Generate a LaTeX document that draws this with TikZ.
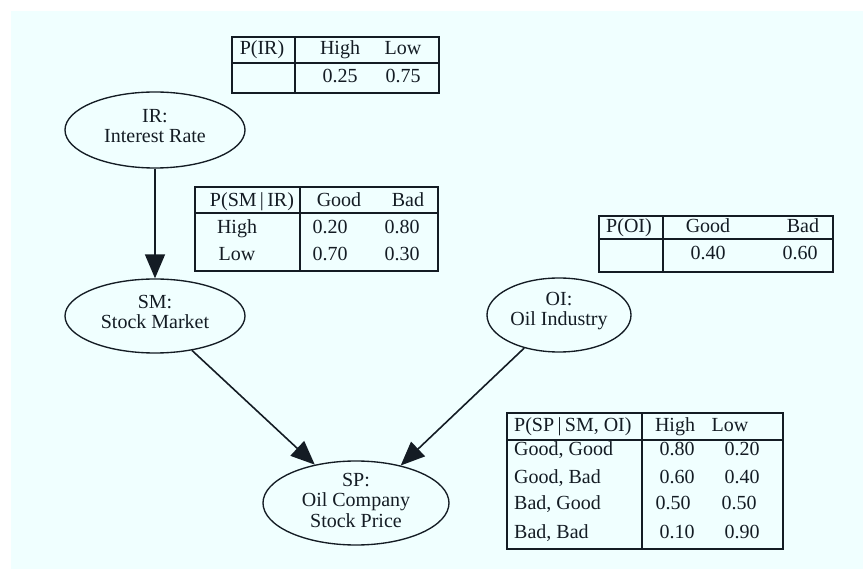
\documentclass[tikz,border=0pt]{standalone}
\usepackage{fontspec}
\setmainfont{Liberation Serif}
\usetikzlibrary{shapes.geometric,arrows.meta}
\definecolor{bgcyan}{HTML}{F0FFFF}
\definecolor{ink}{HTML}{141C24}
\begin{document}
\begin{tikzpicture}[x=1pt,y=-1pt,
  font=\fontsize{20}{20.5}\selectfont,
  var/.style={draw=ink, line width=1.35pt, ellipse, inner sep=0pt},
  vlabel/.style={inner sep=0pt, align=center, text=ink},
  cell/.style={inner sep=0pt, text=ink, anchor=base},
  lcell/.style={inner sep=0pt, text=ink, anchor=base west},
  grid/.style={draw=ink, line width=1.35pt},
  link/.style={draw=ink, line width=1.6pt, -{Triangle[length=24pt,width=20pt]}}
]
\useasboundingbox (0,0) rectangle (863,569);
\fill[bgcyan] (11,11) rectangle (863,569);

% network variables
\node[var, minimum width=180pt, minimum height=76pt] (ir) at (155,130) {};
\node[var, minimum width=180pt, minimum height=74pt] (sm) at (155,316) {};
\node[var, minimum width=144pt, minimum height=74pt] (oi) at (559,315) {};
\node[var, minimum width=186pt, minimum height=84pt] (sp) at (356,503) {};
\node[vlabel] (irl) at (155,126) {IR:\\Interest Rate};
\node[vlabel] (sml) at (155,312) {SM:\\Stock Market};
\node[vlabel] (oil) at (559,311) {OI:\\Oil Industry};
\node[vlabel] (spl) at (356,500) {SP:\\Oil Company\\Stock Price};

% dependencies
\draw[link] (ir) -- (sm);
\draw[link] (sm) -- (sp);
\draw[link] (oi) -- (sp.40);

% P(IR)
\draw[grid] (232,37) rectangle (439,93);
\draw[grid] (295,37) -- (295,93);
\draw[grid] (232,63) -- (439,63);
\node[cell] (irh0) at (262,55) {P(IR)};
\node[cell] (irh1) at (340,55) {High};
\node[cell] (irh2) at (403,55) {Low};
\node[cell] (irv1) at (340,83) {0.25};
\node[cell] (irv2) at (403,83) {0.75};

% P(SM | IR)
\draw[grid] (195,187) rectangle (438,271);
\draw[grid] (300,187) -- (300,271);
\draw[grid] (195,213) -- (438,213);
\node[cell] (smh0) at (252,207) {P(SM\,|\,IR)};
\node[cell] (smh1) at (339,207) {Good};
\node[cell] (smh2) at (408,207) {Bad};
\node[cell] (smr1) at (237,234) {High};
\node[cell] (smr2) at (237,261) {Low};
\node[cell] (sm11) at (330,234) {0.20};
\node[cell] (sm12) at (402,234) {0.80};
\node[cell] (sm21) at (330,261) {0.70};
\node[cell] (sm22) at (402,261) {0.30};

% P(OI)
\draw[grid] (599,216) rectangle (833,272);
\draw[grid] (663,216) -- (663,272);
\draw[grid] (599,239) -- (833,239);
\node[cell] (oih0) at (629,233) {P(OI)};
\node[cell] (oih1) at (708,233) {Good};
\node[cell] (oih2) at (803,233) {Bad};
\node[cell] (oiv1) at (708,260) {0.40};
\node[cell] (oiv2) at (800,260) {0.60};

% P(SP | SM, OI)
\draw[grid] (507,413) rectangle (783,549);
\draw[grid] (642,413) -- (642,549);
\draw[grid] (507,440) -- (783,440);
\node[lcell] (sph0) at (514,432) {P(SP\,|\,SM, OI)};
\node[cell] (sph1) at (675,432) {High};
\node[cell] (sph2) at (730,432) {Low};
\node[lcell] (spr1) at (514,456) {Good, Good};
\node[lcell] (spr2) at (514,483) {Good, Bad};
\node[lcell] (spr3) at (514,510) {Bad, Good};
\node[lcell] (spr4) at (514,538) {Bad, Bad};
\node[cell] (sp11) at (677,456) {0.80};
\node[cell] (sp12) at (742,456) {0.20};
\node[cell] (sp21) at (677,483) {0.60};
\node[cell] (sp22) at (742,483) {0.40};
\node[cell] (sp31) at (673,510) {0.50};
\node[cell] (sp32) at (739,510) {0.50};
\node[cell] (sp41) at (677,538) {0.10};
\node[cell] (sp42) at (742,538) {0.90};
\end{tikzpicture}
\end{document}
